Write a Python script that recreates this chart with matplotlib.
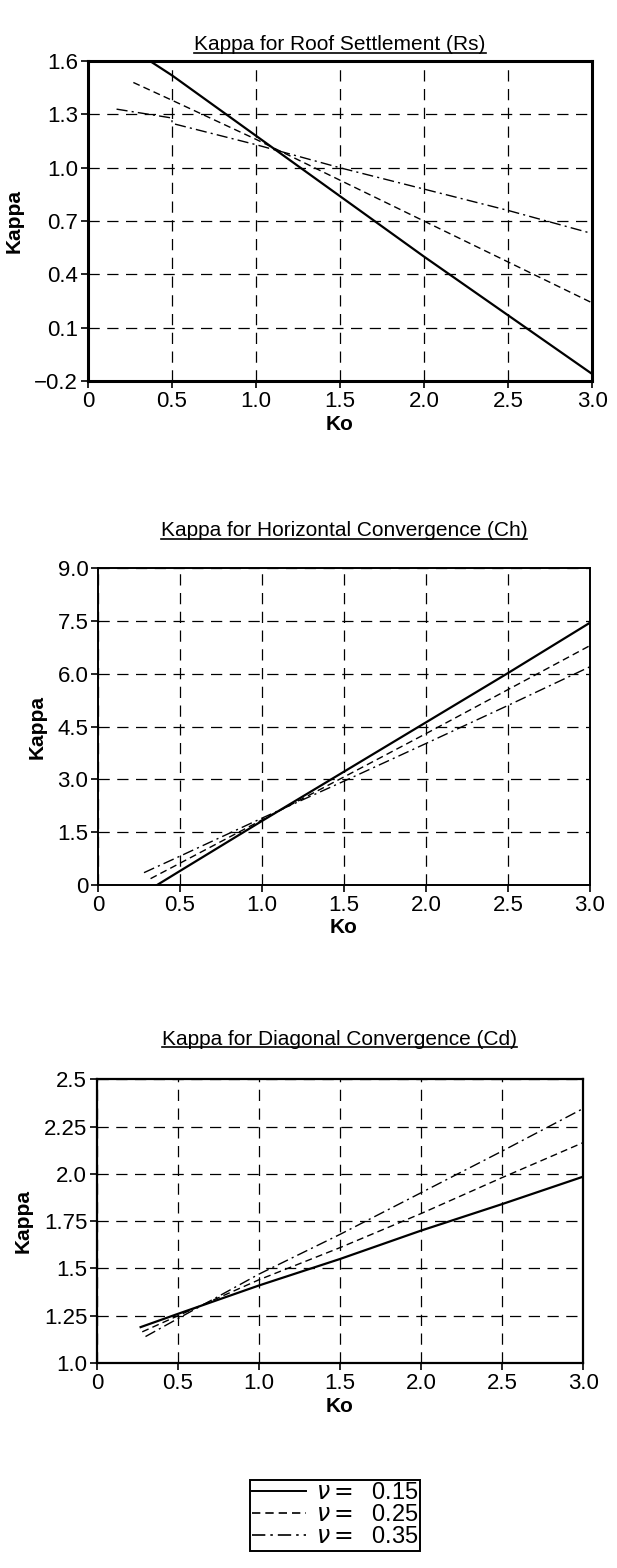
import matplotlib
matplotlib.use("Agg")
import matplotlib.pyplot as plt
from matplotlib.lines import Line2D

plt.rcParams['font.family'] = ['Liberation Sans', 'DejaVu Sans']

# Roof settlement (Rs)
rs_x_015 = [0.37, 0.5, 1.0, 1.5, 2.0, 2.5, 3.0]
rs_y_015 = [1.60, 1.52, 1.18, 0.84, 0.50, 0.17, -0.16]
rs_x_025 = [0.27, 0.5, 1.0, 1.5, 2.0, 2.5, 3.0]
rs_y_025 = [1.48, 1.38, 1.16, 0.93, 0.70, 0.47, 0.24]
rs_x_035 = [0.17, 0.5, 0.5, 1.0, 1.5, 2.0, 2.5, 3.0]
rs_y_035 = [1.33, 1.28, 1.25, 1.13, 1.00, 0.88, 0.76, 0.63]

# Horizontal convergence (Ch)
ch_x_015 = [0.36, 0.5, 1.0, 1.5, 2.0, 2.5, 3.0]
ch_y_015 = [0.0, 0.40, 1.82, 3.22, 4.62, 6.02, 7.45]
ch_x_025 = [0.32, 0.5, 1.0, 1.5, 2.0, 2.5, 3.0]
ch_y_025 = [0.18, 0.62, 1.85, 3.07, 4.30, 5.55, 6.80]
ch_x_035 = [0.28, 0.5, 1.0, 1.5, 2.0, 2.5, 3.0]
ch_y_035 = [0.35, 0.82, 1.90, 2.95, 4.02, 5.10, 6.20]

# Diagonal convergence (Cd)
cd_x_015 = [0.27, 0.5, 1.0, 1.5, 2.0, 2.5, 3.0]
cd_y_015 = [1.19, 1.26, 1.41, 1.55, 1.70, 1.84, 1.985]
cd_x_025 = [0.28, 0.5, 1.0, 1.5, 2.0, 2.5, 3.0]
cd_y_025 = [1.165, 1.25, 1.44, 1.61, 1.79, 1.98, 2.165]
cd_x_035 = [0.30, 0.5, 1.0, 1.5, 2.0, 2.5, 3.0]
cd_y_035 = [1.14, 1.235, 1.47, 1.68, 1.90, 2.12, 2.345]

xticks = [0, 0.5, 1.0, 1.5, 2.0, 2.5, 3.0]
xticklabels = ["0", "0.5", "1.0", "1.5", "2.0", "2.5", "3.0"]

rs_ticks = [-0.2, 0.1, 0.4, 0.7, 1.0, 1.3, 1.6]
rs_labels = ["\u22120.2", "0.1", "0.4", "0.7", "1.0", "1.3", "1.6"]
ch_ticks = [0, 1.5, 3.0, 4.5, 6.0, 7.5, 9.0]
ch_labels = ["0", "1.5", "3.0", "4.5", "6.0", "7.5", "9.0"]
cd_ticks = [1.0, 1.25, 1.5, 1.75, 2.0, 2.25, 2.5]
cd_labels = ["1.0", "1.25", "1.5", "1.75", "2.0", "2.25", "2.5"]

nu_labels = ["0.15", "0.25", "0.35"]
styles = ['-', (0, (5, 3)), (0, (8, 3, 1.5, 3))]

fig = plt.figure(figsize=(6.17, 15.68), dpi=100)

panels = [
    ([0.1426, 0.757, 0.817, 0.204], "Kappa for Roof Settlement (Rs)",
     [(rs_x_015, rs_y_015), (rs_x_025, rs_y_025), (rs_x_035, rs_y_035)],
     rs_ticks, rs_labels, 2.2, 8),
    ([0.159, 0.4356, 0.797, 0.202], "Kappa for Horizontal Convergence (Ch)",
     [(ch_x_015, ch_y_015), (ch_x_025, ch_y_025), (ch_x_035, ch_y_035)],
     ch_ticks, ch_labels, 1.4, 23),
    ([0.157, 0.1307, 0.788, 0.181], "Kappa for Diagonal Convergence (Cd)",
     [(cd_x_015, cd_y_015), (cd_x_025, cd_y_025), (cd_x_035, cd_y_035)],
     cd_ticks, cd_labels, 1.6, 25),
]

titles = []
for rect, title, series, yt, yl, spw, tpad in panels:
    ax = fig.add_axes(rect)
    for (xs, ys), ls in zip(series, styles):
        ax.plot(xs, ys, color='black', linestyle=ls,
                linewidth=1.6 if ls == '-' else 1.0)
    ax.set_xlim(0, 3.0)
    ax.set_ylim(yt[0], yt[-1])
    ax.set_xticks(xticks)
    ax.set_xticklabels(xticklabels)
    ax.set_yticks(yt)
    ax.set_yticklabels(yl)
    ax.tick_params(labelsize=16, length=5, width=1.2, direction='out', pad=2)
    ax.grid(True, color='black', linestyle=(0, (9, 6)), linewidth=0.9)
    for s in ax.spines.values():
        s.set_linewidth(spw)
    ax.set_xlabel("Ko", fontsize=15, fontweight='bold', labelpad=2)
    ax.set_ylabel("Kappa", fontsize=15, fontweight='bold', labelpad=8)
    t = ax.set_title(title, fontsize=15, pad=tpad)
    titles.append(t)

# legend drawn in its own box below the panels
handles = [Line2D([], [], color='black', linestyle=ls,
                  linewidth=1.4 if ls == '-' else 1.2) for ls in styles]
labels = [r"$\nu =$  " + v for v in nu_labels]
leg = fig.legend(handles, labels, loc='center', bbox_to_anchor=(0.543, 0.0337),
                 fontsize=17, frameon=True, fancybox=False, handlelength=2.3,
                 handletextpad=0.4, borderpad=0.1, labelspacing=0.0,
                 borderaxespad=0.2, framealpha=1)
leg.get_frame().set_edgecolor('black')
leg.get_frame().set_linewidth(1.4)

# underline the titles
fig.canvas.draw()
renderer = fig.canvas.get_renderer()
inv = fig.transFigure.inverted()
for t in titles:
    bb = t.get_window_extent(renderer)
    (x0, y0), (x1, y1) = inv.transform([[bb.x0, bb.y0], [bb.x1, bb.y1]])
    fig.add_artist(Line2D([x0, x1], [y0 + 0.0008, y0 + 0.0008],
                          transform=fig.transFigure, color='black', linewidth=1.2))

fig.savefig("out.png", dpi=100)
